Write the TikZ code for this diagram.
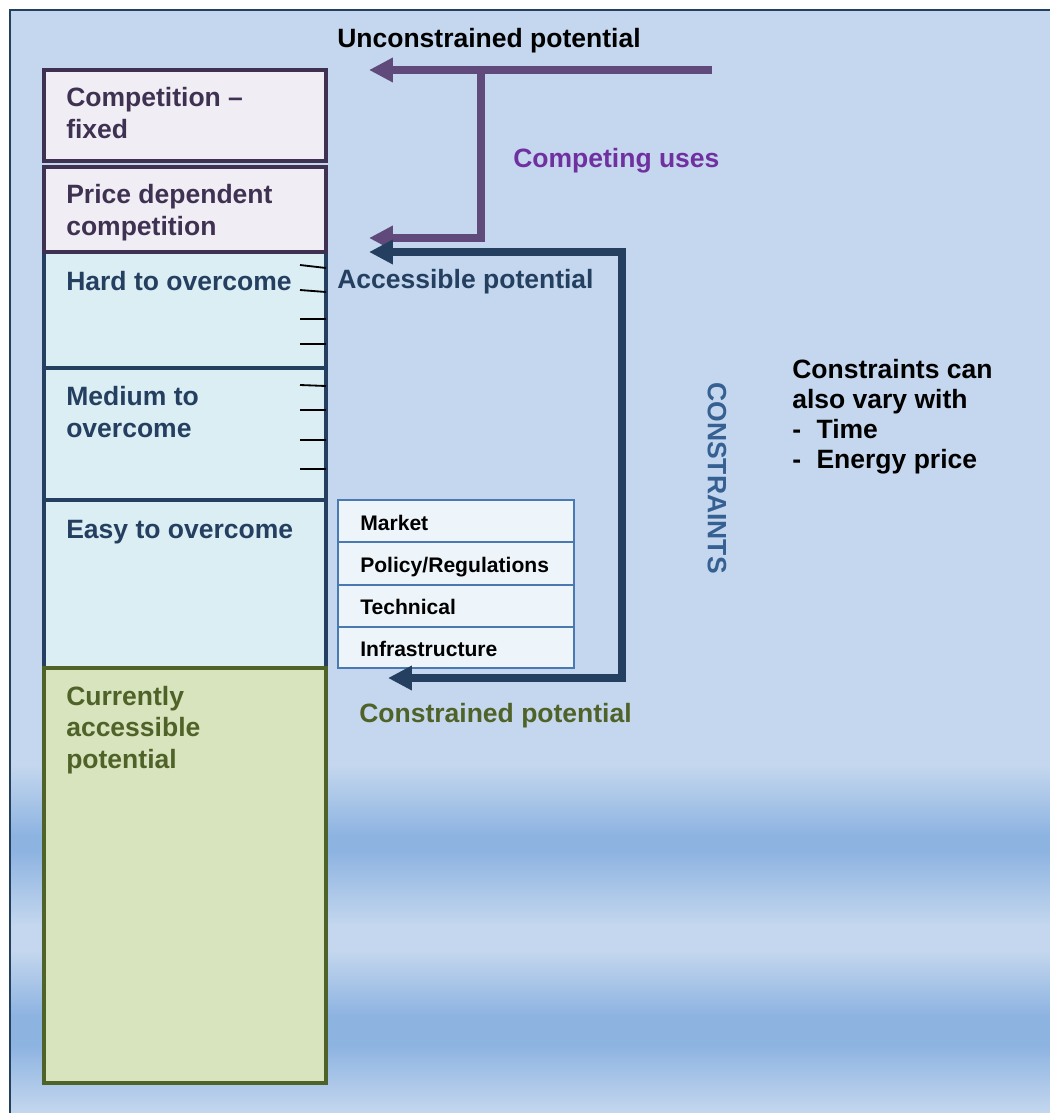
\documentclass[tikz,border=0pt]{standalone}
\usepackage{fontspec}
\setmainfont{Liberation Sans}
\usetikzlibrary{arrows.meta,fit,positioning}
\definecolor{bglight}{HTML}{C4D7EE}
\definecolor{bgdark}{HTML}{8DB3E1}
\definecolor{framenavy}{HTML}{243F60}
\definecolor{navy}{HTML}{243F60}
\definecolor{icepale}{HTML}{DBEEF4}
\definecolor{plumdark}{HTML}{3F3151}
\definecolor{plumpale}{HTML}{F0EEF4}
\definecolor{plumarrow}{HTML}{604A7B}
\definecolor{violet}{HTML}{7030A0}
\definecolor{leaf}{HTML}{4F6228}
\definecolor{leafpale}{HTML}{D7E4BD}
\definecolor{steel}{HTML}{4A78B0}
\definecolor{steeltext}{HTML}{376092}
\definecolor{cellpale}{HTML}{EEF5FA}

\begin{document}
\begin{tikzpicture}[x=0.025cm,y=-0.025cm,
  compbox/.style={rectangle,draw=plumdark,fill=plumpale,line width=3pt,inner sep=0pt},
  hardbox/.style={rectangle,draw=navy,fill=icepale,line width=3pt,inner sep=0pt},
  curbox/.style={rectangle,draw=leaf,fill=leafpale,line width=3pt,inner sep=0pt},
  cell/.style={rectangle,draw=steel,fill=cellpale,line width=1.3pt,inner sep=0pt},
  lbl/.style={anchor=base west,align=left,inner sep=0pt,font=\bfseries\fontsize{18.85}{22.2}\selectfont},
  celltxt/.style={anchor=base west,inner sep=0pt,font=\bfseries\fontsize{15}{18}\selectfont},
  purplearrow/.style={-{Triangle[length=17pt,width=16.5pt]},line width=5pt,plumarrow},
  navyarrow/.style={{Triangle[length=17pt,width=16.5pt]}-{Triangle[length=17pt,width=16.5pt]},line width=5pt,navy},
  tickline/.style={black,line width=1.3pt},
]
\useasboundingbox (0,0) rectangle (1050,1113);
\clip (0,0) rectangle (1050,1113);

% BACKGROUND (banded gradient)
\fill[bglight] (10,10) rectangle (1050,1113);
\shade[top color=bglight,bottom color=bgdark] (10,765) rectangle (1050,836);
\fill[bgdark] (10,835) rectangle (1050,851);
\shade[top color=bgdark,bottom color=bglight] (10,850) rectangle (1050,926);
\shade[top color=bglight,bottom color=bgdark] (10,950) rectangle (1050,1016);
\fill[bgdark] (10,1015) rectangle (1050,1046);
\shade[top color=bgdark,bottom color=bglight] (10,1045) rectangle (1050,1113);
\draw[framenavy,line width=2pt] (10,1113) -- (10,10) -- (1050,10);

% COLUMN OF POTENTIALS
\node[hardbox,fit={(44,252) (326,368)}] (hard) {};
\node[hardbox,fit={(44,368) (326,500)}] (medium) {};
\node[hardbox,fit={(44,500) (326,668)}] (easy) {};
\node[curbox,fit={(44,668) (326,1083)}] (current) {};
\node[compbox,fit={(44,70) (326,161)}] (fixed) {};
\node[compbox,fit={(44,167) (326,252)}] (pricedep) {};

% (multi-line labels: base = last line)
\node[lbl,text=plumdark] (fixedtxt) at (66,138) {Competition --\\fixed};
\node[lbl,text=plumdark] (pricetxt) at (66,235) {Price dependent\\competition};
\node[lbl,text=navy] (hardtxt) at (66,290) {Hard to overcome};
\node[lbl,text=navy] (medtxt) at (66,437) {Medium to\\overcome};
\node[lbl,text=navy] (easytxt) at (66,538) {Easy to overcome};
\node[lbl,text=leaf] (curtxt) at (66,768) {Currently\\accessible\\potential};

% ticks on the right edge
\foreach \ya/\yb in {265/268,290/292,319/319,344/344,385/386,410/410,440/440,469/469}
  \draw[tickline] (300,\ya) -- (326,\yb);

% CONSTRAINT TABLE
\node[cell,fit={(338,500) (574,542)}] (market) {};
\node[cell,fit={(338,542) (574,585)}] (policy) {};
\node[cell,fit={(338,585) (574,627)}] (technical) {};
\node[cell,fit={(338,627) (574,668)}] (infra) {};
\node[celltxt] (markettxt) at (360,530) {Market};
\node[celltxt] (policytxt) at (360,572) {Policy/Regulations};
\node[celltxt] (techtxt) at (360,614) {Technical};
\node[celltxt] (infratxt) at (360,656) {Infrastructure};

% LABELS
\node[lbl] (unctxt) at (337,47) {Unconstrained potential};
\node[lbl,text=violet] (comptxt) at (513,167) {Competing uses};
\node[lbl,text=navy] (acctxt) at (337,288) {Accessible potential};
\node[lbl,text=leaf] (contxt) at (359,722) {Constrained potential};
\node[inner sep=0pt,rotate=-90,text=steeltext,font=\bfseries\fontsize{18.85}{22.2}\selectfont] (constr) at (717,478) {CONSTRAINTS};
\node[lbl,font=\bfseries\fontsize{18.85}{21.3}\selectfont] (vary) at (792,468)
  {Constraints can\\also vary with\\-\hspace{11pt}Time\\-\hspace{11pt}Energy price};

% ARROWS
\coordinate (uncstart) at (712,70);
\coordinate (unctip) at (369,70);
\coordinate (split) at (481,70);
\coordinate (comptip) at (369,238);
\coordinate (acctip) at (369,252);
\coordinate (conturn) at (622,678);
\coordinate (contip) at (388,678);
\draw[purplearrow] (uncstart) -- (unctip);
\draw[purplearrow] (split) |- (comptip);
\draw[navyarrow] (acctip) -| (conturn) -- (contip);
\end{tikzpicture}
\end{document}
